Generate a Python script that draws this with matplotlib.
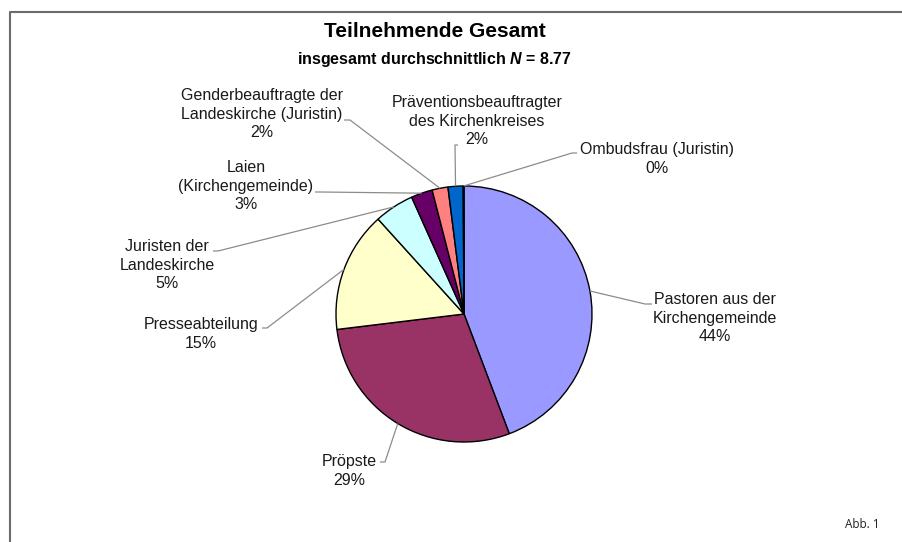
import numpy as np
import matplotlib
matplotlib.use("Agg")
import matplotlib.pyplot as plt

plt.rcParams['font.family'] = ['Liberation Sans', 'DejaVu Sans']
plt.rcParams['mathtext.fontset'] = 'custom'
plt.rcParams['mathtext.bfit'] = 'Liberation Sans:italic:bold'

# data
names = ["Pastoren aus der\nKirchengemeinde", "Pröpste", "Presseabteilung",
         "Juristen der\nLandeskirche", "Laien\n(Kirchengemeinde)",
         "Genderbeauftragte der\nLandeskirche (Juristin)",
         "Präventionsbeauftragter\ndes Kirchenkreises", "Ombudsfrau (Juristin)"]
shares = [44.2, 28.8, 15.2, 5.0, 2.7, 2.0, 1.9, 0.1]
colors = ["#9999FF", "#993366", "#FFFFCC", "#CCFFFF", "#660066",
          "#FF8080", "#0066CC", "#CCCCFF"]

W, H = 903, 542

def Y(y):
    # image y (top down) -> data y
    return H - y

# label layout in pixel coords: text centre, text-side end of leader, elbow
text_pos = [(715, 318), (349, 471), (201, 334), (167, 265),
            (246, 186), (262, 114), (477, 121), (657, 159)]
line_end = [(652, 304), (380, 462), (262, 328), (213, 251),
            (315, 192), (344, 120), (458, 145), (577, 153)]
elbow = [(645, 304), (385, 462), (267, 328), (218, 251),
         (320, 192), (350, 120), (455, 145), (572, 153)]

fig = plt.figure(figsize=(W / 100, H / 100), dpi=100)
ax = fig.add_axes([0, 0, 1, 1])

cx, cy, r = 464, Y(314), 128
wedges, _ = ax.pie(shares, colors=colors, startangle=90, counterclock=False,
                   center=(cx, cy), radius=r, normalize=True,
                   wedgeprops=dict(edgecolor="black", linewidth=1.0))

ax.set_xlim(0, W)
ax.set_ylim(0, H)
ax.set_aspect("equal")
ax.axis("off")

for i, w in enumerate(wedges):
    ang = np.deg2rad((w.theta1 + w.theta2) / 2)
    px, py = cx + r * np.cos(ang), cy + r * np.sin(ang)
    ex, ey = elbow[i]
    lx, ly = line_end[i]
    ax.plot([px, ex, lx], [py, Y(ey), Y(ly)], color="#8c8c8c", lw=0.9,
            solid_capstyle="butt", zorder=1)
    tx, ty = text_pos[i]
    ax.text(tx, Y(ty), f"{names[i]}\n{round(shares[i])}%", ha="center",
            va="center", multialignment="center", fontsize=11.5,
            color="#1a1a1a", linespacing=1.28)

# title
ax.text(435, Y(37), "Teilnehmende Gesamt", ha="center", va="baseline",
        fontsize=15, fontweight="bold", color="black")
ax.text(434, Y(64), r"insgesamt durchschnittlich $\mathbfit{N}$ = 8.77",
        ha="center", va="baseline", fontsize=11.5, fontweight="bold")

# frame of the cut-out
ax.plot([10, 10, W], [0, Y(12), Y(12)], color="#6b6b6b", lw=1.5,
        solid_capstyle="butt")

ax.text(862, Y(524), "Abb. 1", ha="center", va="center", fontsize=8.5,
        family="Open Sans", color="#222222")

fig.savefig("out.png", dpi=100)
